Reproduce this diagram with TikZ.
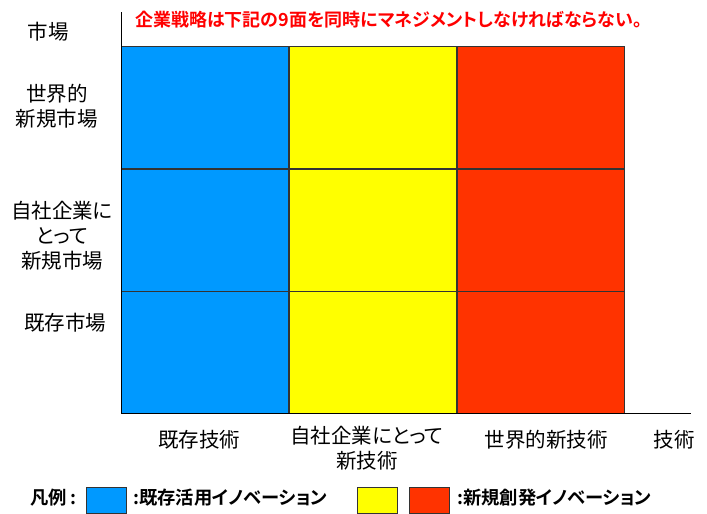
\documentclass[tikz,border=0pt]{standalone}
\usepackage{fontspec}
\setmainfont{Noto Sans CJK JP}
\newfontfamily\jplbl[RawFeature=+palt]{Noto Sans CJK JP}
\newfontfamily\jpbold[RawFeature=+palt]{Noto Sans CJK JP Bold}
\definecolor{cblue}{HTML}{0099FF}
\definecolor{cyellow}{HTML}{FFFF00}
\definecolor{cred}{HTML}{FF3300}
\begin{document}
\begin{tikzpicture}[x=1pt,y=-1pt,
  cell/.style={draw=black!80,line width=0.7pt},
  lbl/.style={font=\jplbl\fontsize{20.5}{25}\selectfont,align=center,inner sep=0pt},
  lgd/.style={font=\jpbold\fontsize{18.3}{21}\selectfont,inner sep=0pt,anchor=west},
  lbox/.style={draw=black!80,line width=0.7pt,minimum width=40pt,minimum height=26pt,inner sep=0pt}]
\useasboundingbox (0,0) rectangle (707,514);
% cells
\foreach \c/\x in {cblue/121,cyellow/289,cred/457}{
  \foreach \y in {46,169,291}{
    \filldraw[cell,fill=\c] (\x,\y) rectangle ++(167.5,122.5);
  }
}
% axes
\coordinate (otop) at (121,12);
\coordinate (orig) at (121,413);
\coordinate (xend) at (691,413);
\draw[line width=0.9pt] (otop) -- (orig) -- (xend);
% title
\node[font=\jpbold\fontsize{18}{21}\selectfont,text=red,anchor=west,inner sep=0pt] (title) at (135,20) {企業戦略は下記の9面を同時にマネジメントしなければならない。};
% left labels
\node[lbl] (m1) at (48,32) {市場};
\node[lbl] (m2) at (57,106) {世界的\\新規市場};
\node[lbl] (m3) at (62,236) {自社企業に\\とって\\新規市場};
\node[lbl] (m4) at (65,323) {既存市場};
% bottom labels
\node[lbl] (t1) at (199,440) {既存技術};
\node[lbl] (t2) at (367,448) {自社企業にとって\\新技術};
\node[lbl] (t3) at (546,440) {世界的新技術};
\node[lbl] (t4) at (674,440) {技術};
% legend
\node[lgd] (lg) at (30,498) {凡例 :};
\node[lbox,fill=cblue] (b1) at (106,500) {};
\node[lgd] (lt1) at (133,498) {:既存活用イノベーション};
\node[lbox,fill=cyellow] (b2) at (377,500) {};
\node[lbox,fill=cred] (b3) at (429,500) {};
\node[lgd] (lt2) at (457,498) {:新規創発イノベーション};
\end{tikzpicture}
\end{document}
